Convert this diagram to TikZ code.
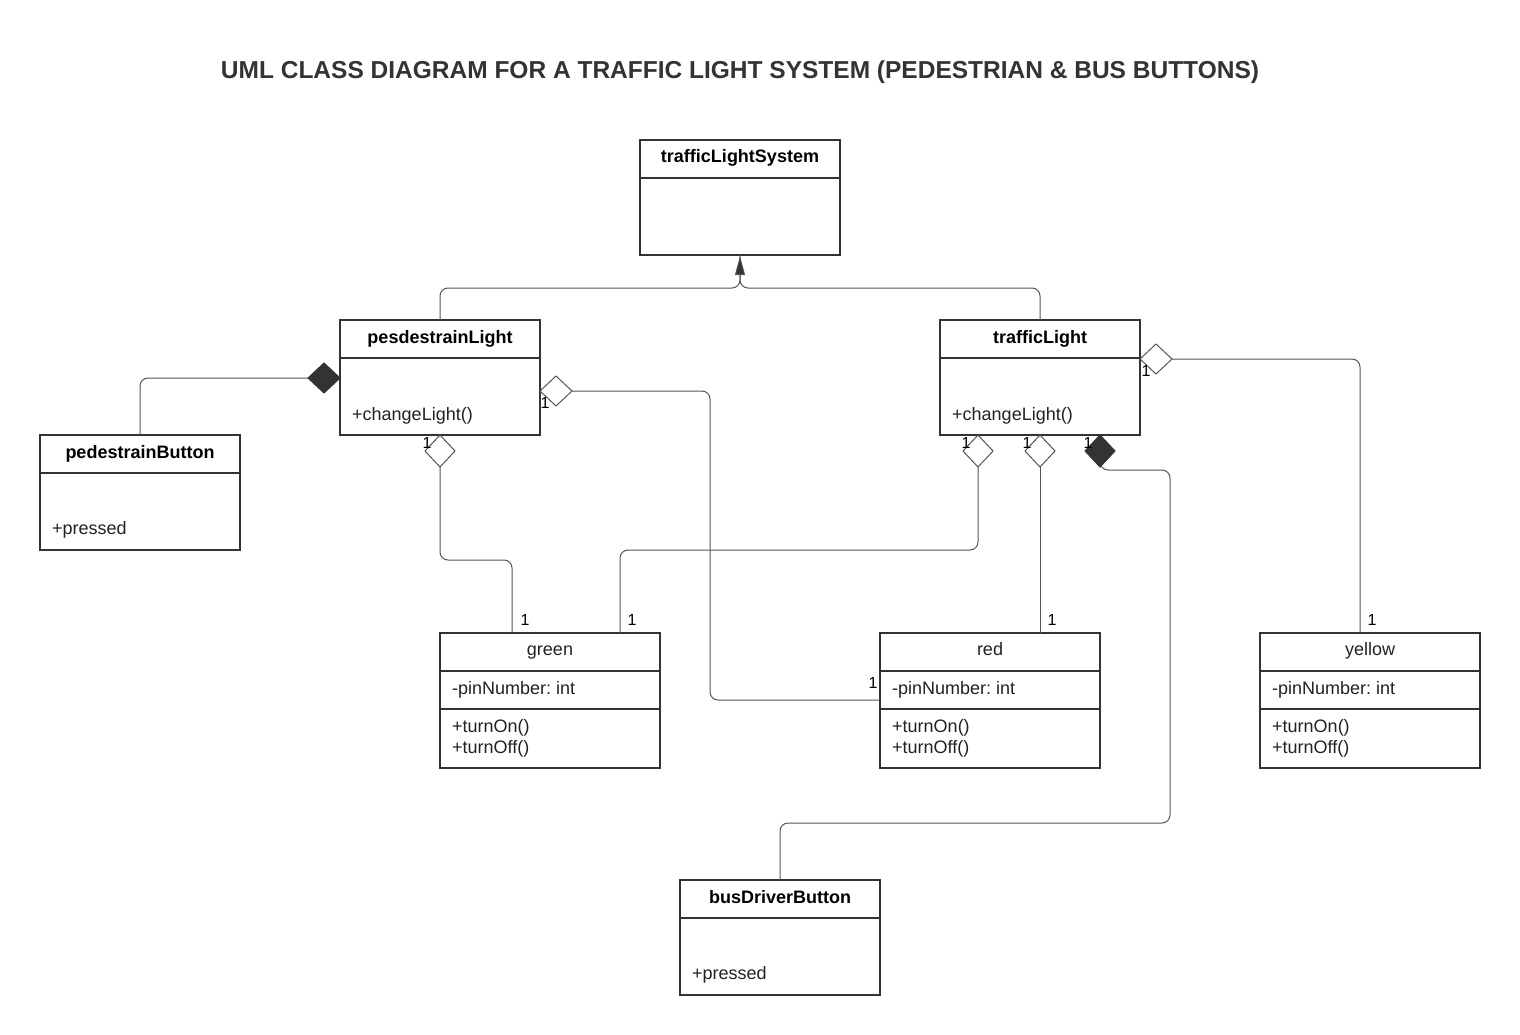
\documentclass[tikz,border=0pt]{standalone}
\usepackage{fontspec}
\setmainfont{Liberation Sans}
\usetikzlibrary{calc,arrows.meta}
\definecolor{boxc}{HTML}{333333}
\definecolor{linec}{HTML}{555555}
\definecolor{txtc}{HTML}{222222}
\begin{document}
\frenchspacing
\begin{tikzpicture}[x=1pt,y=-1pt,
  umlbox/.style 2 args={draw=boxc, line width=2pt, minimum width=#1, minimum height=#2,
    anchor=north west, inner sep=0pt, outer sep=0pt},
  sepline/.style={draw=boxc, line width=2pt},
  conn/.style={draw=linec, line width=1pt, rounded corners=8pt},
  hollowd/.style={draw=linec, line width=1pt, fill=white},
  filledd/.style={draw=boxc, line width=1pt, fill=boxc},
  cname/.style={font=\fontsize{18}{21}\selectfont\bfseries, text=black, inner sep=0pt, anchor=base},
  cplain/.style={font=\fontsize{18}{21}\selectfont, text=txtc, inner sep=0pt, anchor=base},
  member/.style={font=\fontsize{18}{21}\selectfont, text=txtc, inner sep=0pt, anchor=base west},
  mult/.style={font=\fontsize{16}{18}\selectfont, text=black, inner sep=0pt},
  titlestyle/.style={font=\fontsize{24.5}{28}\selectfont\bfseries, text=boxc, inner sep=0pt}
]
\useasboundingbox (0,0) rectangle (1520,1035);
\fill[white] (0,0) rectangle (1520,1035);

% title
\node[titlestyle] (title) at (740,72) {UML CLASS DIAGRAM FOR A TRAFFIC LIGHT SYSTEM (PEDESTRIAN \& BUS BUTTONS)};

% boxes
\node[umlbox={200pt}{115pt}] (tls) at (640,140) {};
\node[umlbox={200pt}{115pt}] (pl) at (340,320) {};
\node[umlbox={200pt}{115pt}] (tl) at (940,320) {};
\node[umlbox={200pt}{115pt}] (pb) at (40,435) {};
\node[umlbox={220pt}{135pt}] (g) at (440,633) {};
\node[umlbox={220pt}{135pt}] (r) at (880,633) {};
\node[umlbox={220pt}{135pt}] (y) at (1260,633) {};
\node[umlbox={200pt}{115pt}] (bd) at (680,880) {};

% compartment lines
\foreach \b in {tls,pl,tl,pb,bd}{
  \draw[sepline] ($(\b.north west)+(0,38)$) -- ($(\b.north east)+(0,38)$);
}
\foreach \b in {g,r,y}{
  \draw[sepline] ($(\b.north west)+(0,38)$) -- ($(\b.north east)+(0,38)$);
  \draw[sepline] ($(\b.north west)+(0,76)$) -- ($(\b.north east)+(0,76)$);
}

% class names
\node[cname] (tlsn) at ($(tls.north)+(0,23)$) {trafficLightSystem};
\node[cname] (pln) at ($(pl.north)+(0,23)$) {pesdestrainLight};
\node[cname] (tln) at ($(tl.north)+(0,23)$) {trafficLight};
\node[cname] (pbn) at ($(pb.north)+(0,23)$) {pedestrainButton};
\node[cname] (bdn) at ($(bd.north)+(0,23)$) {busDriverButton};
\node[cplain] (gn) at ($(g.north)+(0,22)$) {green};
\node[cplain] (rn) at ($(r.north)+(0,22)$) {red};
\node[cplain] (yn) at ($(y.north)+(0,22)$) {yellow};

% members
\node[member] (plm) at ($(pl.north west)+(12,100)$) {+changeLight()};
\node[member] (tlm) at ($(tl.north west)+(12,100)$) {+changeLight()};
\node[member] (pbm) at ($(pb.north west)+(12,99)$) {+pressed};
\node[member] (bdm) at ($(bd.north west)+(12,99)$) {+pressed};
\foreach \b in {g,r,y}{
  \node[member] (\b a) at ($(\b.north west)+(12,61)$) {-pinNumber: int};
  \node[member] (\b o1) at ($(\b.north west)+(12,99)$) {+turnOn()};
  \node[member] (\b o2) at ($(\b.north west)+(12,120)$) {+turnOff()};
}

% generalization
\coordinate (jn) at ($(tls.south)+(0,33)$);
\draw[conn] (tl.north) |- (jn) -- (tls.south);
\draw[conn, -{Triangle[length=19pt,width=10pt,fill=boxc]}] (pl.north) |- (jn) -- ($(tls.south)+(0,1)$);

% diamonds: tips on boxes
\coordinate (tA) at ($(pl.north west)+(0,58)$);   % composition pedestrainButton
\coordinate (tB) at (pl.south);                   % aggregation green
\coordinate (tC) at ($(pl.north east)+(0,71)$);   % aggregation red
\coordinate (tD) at ($(tl.south west)+(38,0)$);   % aggregation green
\coordinate (tE) at (tl.south);                   % aggregation red
\coordinate (tF) at ($(tl.south west)+(160,0)$);  % composition busDriverButton
\coordinate (tG) at ($(tl.north east)+(0,39)$);   % aggregation yellow

\coordinate (eA) at ($(tA)+(-32,0)$);
\coordinate (eB) at ($(tB)+(0,32)$);
\coordinate (eC) at ($(tC)+(32,0)$);
\coordinate (eD) at ($(tD)+(0,32)$);
\coordinate (eE) at ($(tE)+(0,32)$);
\coordinate (eF) at ($(tF)+(0,32)$);
\coordinate (eG) at ($(tG)+(32,0)$);

% connectors
\draw[conn] (pb.north) |- (eA);
\draw[conn] (eB) -- ++(0,93) -| ($(g.north west)+(72,0)$);
\draw[conn] (eC) -- ++(138,0) |- ($(r.north west)+(0,67)$);
\draw[conn] (eD) -- ++(0,83) -| ($(g.north west)+(180,0)$);
\draw[conn] (eE) -- ($(r.north west)+(160,0)$);
\draw[conn] (eF) -- ++(0,3) -- ++(70,0) |- ($(bd.north)+(0,-57)$) -- (bd.north);
\draw[conn] (eG) -| ($(y.north west)+(100,0)$);

% diamond shapes
\draw[filledd] (tA) -- ++(-16,-15) -- ++(-16,15) -- ++(16,15) -- cycle;
\draw[hollowd] (tB) -- ++(15,16) -- ++(-15,16) -- ++(-15,-16) -- cycle;
\draw[hollowd] (tC) -- ++(16,-15) -- ++(16,15) -- ++(-16,15) -- cycle;
\draw[hollowd] (tD) -- ++(15,16) -- ++(-15,16) -- ++(-15,-16) -- cycle;
\draw[hollowd] (tE) -- ++(15,16) -- ++(-15,16) -- ++(-15,-16) -- cycle;
\draw[filledd] (tF) -- ++(15,16) -- ++(-15,16) -- ++(-15,-16) -- cycle;
\draw[hollowd] (tG) -- ++(16,-15) -- ++(16,15) -- ++(-16,15) -- cycle;

% multiplicities
\node[mult] (m1) at (427,443) {1};
\node[mult] (m2) at (545,403) {1};
\node[mult] (m3) at (525,620) {1};
\node[mult] (m4) at (632,620) {1};
\node[mult] (m5) at (873,683) {1};
\node[mult] (m6) at (966,443) {1};
\node[mult] (m7) at (1027,443) {1};
\node[mult] (m8) at (1088,443) {1};
\node[mult] (m9) at (1052,620) {1};
\node[mult] (m10) at (1146,371) {1};
\node[mult] (m11) at (1372,620) {1};
\end{tikzpicture}
\end{document}
